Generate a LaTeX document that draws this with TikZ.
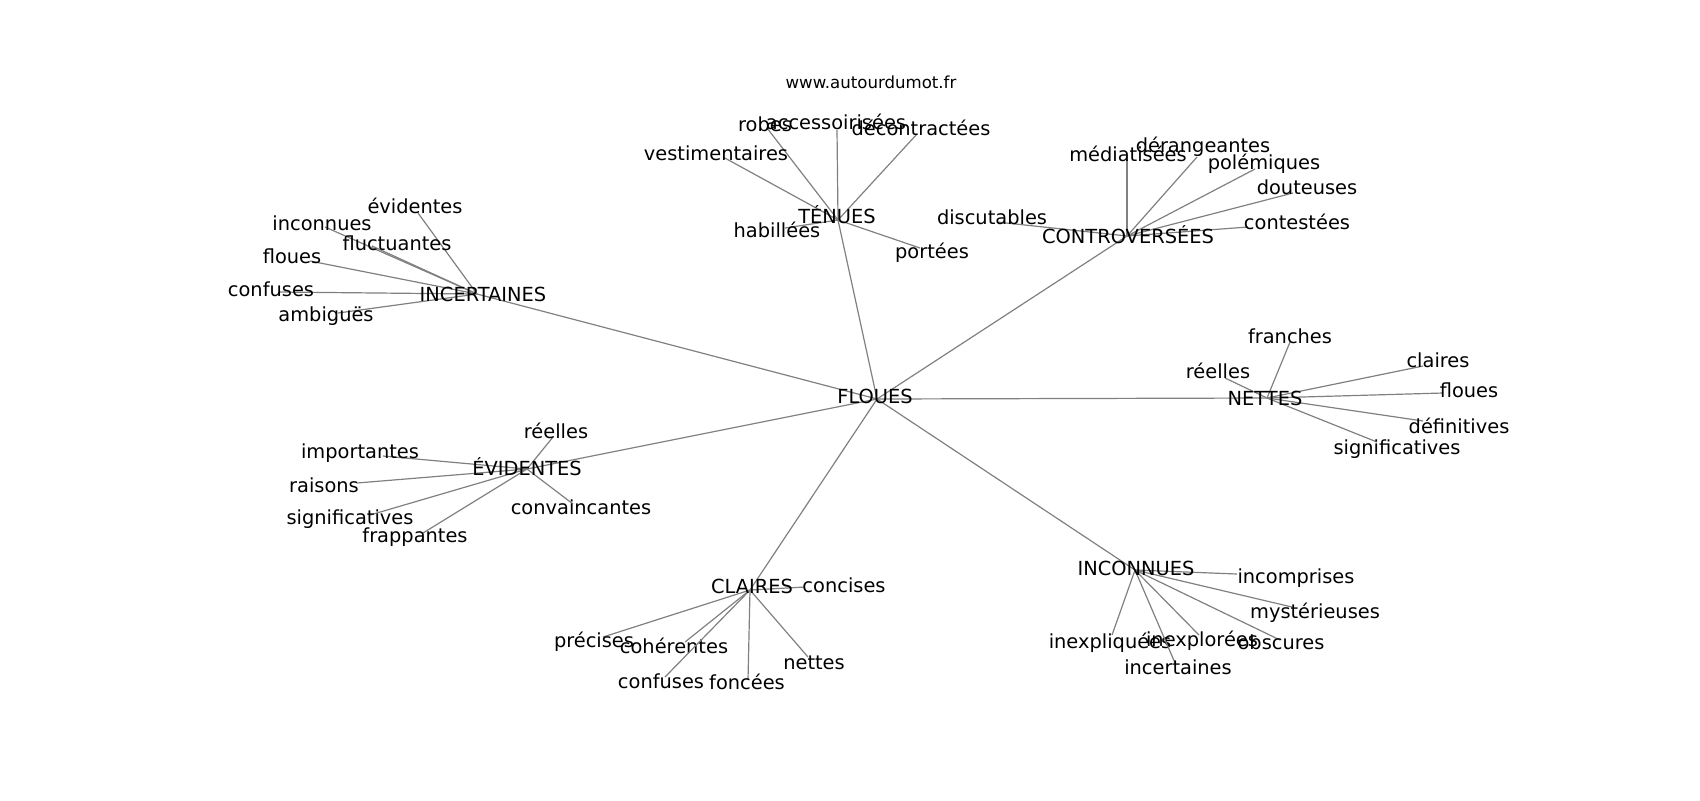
\documentclass[tikz,border=0pt]{standalone}
\usepackage{fontspec}
\setmainfont{DejaVu Sans}
\tikzset{
  edge/.style={draw=black!50, line width=0.6pt},
  lbl/.style={font=\fontsize{9.7}{11}\selectfont, text=black, inner sep=0pt, text height=0.76em, text depth=0.24em, anchor=center},
  ttl/.style={font=\fontsize{8.3}{10}\selectfont, text=black, inner sep=0pt, text height=0.76em, text depth=0.24em, anchor=center}
}
% name, hub, x, y, label x, label y, text
\newcommand\mkword[7]{%
  \coordinate (#1) at (#3,#4);
  \draw[edge] (#2) -- (#1);
  \node[lbl] (#1-t) at (#5,#6) {#7};
}
\begin{document}
\begin{tikzpicture}[x=0.5pt,y=-0.5pt]
\useasboundingbox (0,0) rectangle (1700,800);
% hubs
\coordinate (F) at (877,399);
\coordinate (T) at (838,220);
\coordinate (C) at (1127,236);
\coordinate (I) at (477,294);
\coordinate (N) at (1267,398);
\coordinate (E) at (527,469);
\coordinate (CL) at (750,590);
\coordinate (IN) at (1135,570);
\foreach \h in {T,C,I,N,E,CL,IN} {\draw[edge] (F) -- (\h);}
\node[ttl] (site) at (871,83) {www.autourdumot.fr};
% TENUES
\mkword{t1}{T}{767}{128}{765}{126}{robes}
\mkword{t2}{T}{837}{130}{836}{124}{accessoirisées}
\mkword{t3}{T}{917}{134}{921}{130}{décontractées}
\mkword{t4}{T}{723}{157}{716}{155}{vestimentaires}
\mkword{t5}{T}{785}{228}{777}{232}{habillées}
\mkword{t6}{T}{920}{248}{932}{253}{portées}
% CONTROVERSEES
\mkword{c1}{C}{997}{222}{992}{219}{discutables}
\mkword{c2}{C}{1127}{160}{1128}{156}{médiatisées}
\mkword{c3}{C}{1197}{157}{1203}{147}{dérangeantes}
\mkword{c4}{C}{1255}{169}{1264}{164}{polémiques}
\mkword{c5}{C}{1293}{193}{1307}{189}{douteuses}
\mkword{c6}{C}{1248}{227}{1297}{224}{contestées}
% INCERTAINES
\mkword{i1}{I}{418}{213}{415}{208}{évidentes}
\mkword{i2}{I}{325}{227}{322}{225}{inconnues}
\mkword{i3}{I}{372}{246}{397}{245}{fluctuantes}
\mkword{i4}{I}{310}{261}{292}{258}{floues}
\mkword{i5}{I}{278}{292}{271}{291}{confuses}
\mkword{i6}{I}{338}{313}{326}{316}{ambiguës}
% NETTES
\mkword{n1}{N}{1290}{342}{1290}{338}{franches}
\mkword{n2}{N}{1225}{378}{1218}{373}{réelles}
\mkword{n3}{N}{1423}{366}{1438}{362}{claires}
\mkword{n4}{N}{1443}{393}{1469}{392}{floues}
\mkword{n5}{N}{1423}{421}{1459}{428}{définitives}
\mkword{n6}{N}{1377}{442}{1397}{449}{significatives}
% EVIDENTES
\mkword{e1}{E}{553}{437}{556}{433}{réelles}
\mkword{e2}{E}{383}{456}{360}{453}{importantes}
\mkword{e3}{E}{357}{483}{324}{487}{raisons}
\mkword{e4}{E}{370}{515}{350}{519}{significatives}
\mkword{e5}{E}{423}{533}{415}{537}{frappantes}
\mkword{e6}{E}{573}{504}{581}{509}{convaincantes}
% CLAIRES
\mkword{l1}{CL}{805}{587}{844}{587}{concises}
\mkword{l2}{CL}{603}{637}{594}{642}{précises}
\mkword{l3}{CL}{685}{642}{674}{648}{cohérentes}
\mkword{l4}{CL}{665}{677}{661}{683}{confuses}
\mkword{l5}{CL}{748}{680}{747}{684}{foncées}
\mkword{l6}{CL}{808}{657}{814}{664}{nettes}
% INCONNUES
\mkword{o1}{IN}{1237}{574}{1296}{578}{incomprises}
\mkword{o2}{IN}{1292}{607}{1315}{613}{mystérieuses}
\mkword{o3}{IN}{1280}{640}{1281}{644}{obscures}
\mkword{o4}{IN}{1199}{635}{1202}{641}{inexplorées}
\mkword{o5}{IN}{1112}{635}{1110}{643}{inexpliquées}
\mkword{o6}{IN}{1175}{663}{1178}{669}{incertaines}
% hub labels
\node[lbl] (F-t) at (875,398) {FLOUES};
\node[lbl] (T-t) at (837,218) {TÉNUES};
\node[lbl] (C-t) at (1128,238) {CONTROVERSÉES};
\node[lbl] (I-t) at (483,296) {INCERTAINES};
\node[lbl] (N-t) at (1265,400) {NETTES};
\node[lbl] (E-t) at (527,470) {ÉVIDENTES};
\node[lbl] (CL-t) at (752,588) {CLAIRES};
\node[lbl] (IN-t) at (1136,570) {INCONNUES};
\end{tikzpicture}
\end{document}
